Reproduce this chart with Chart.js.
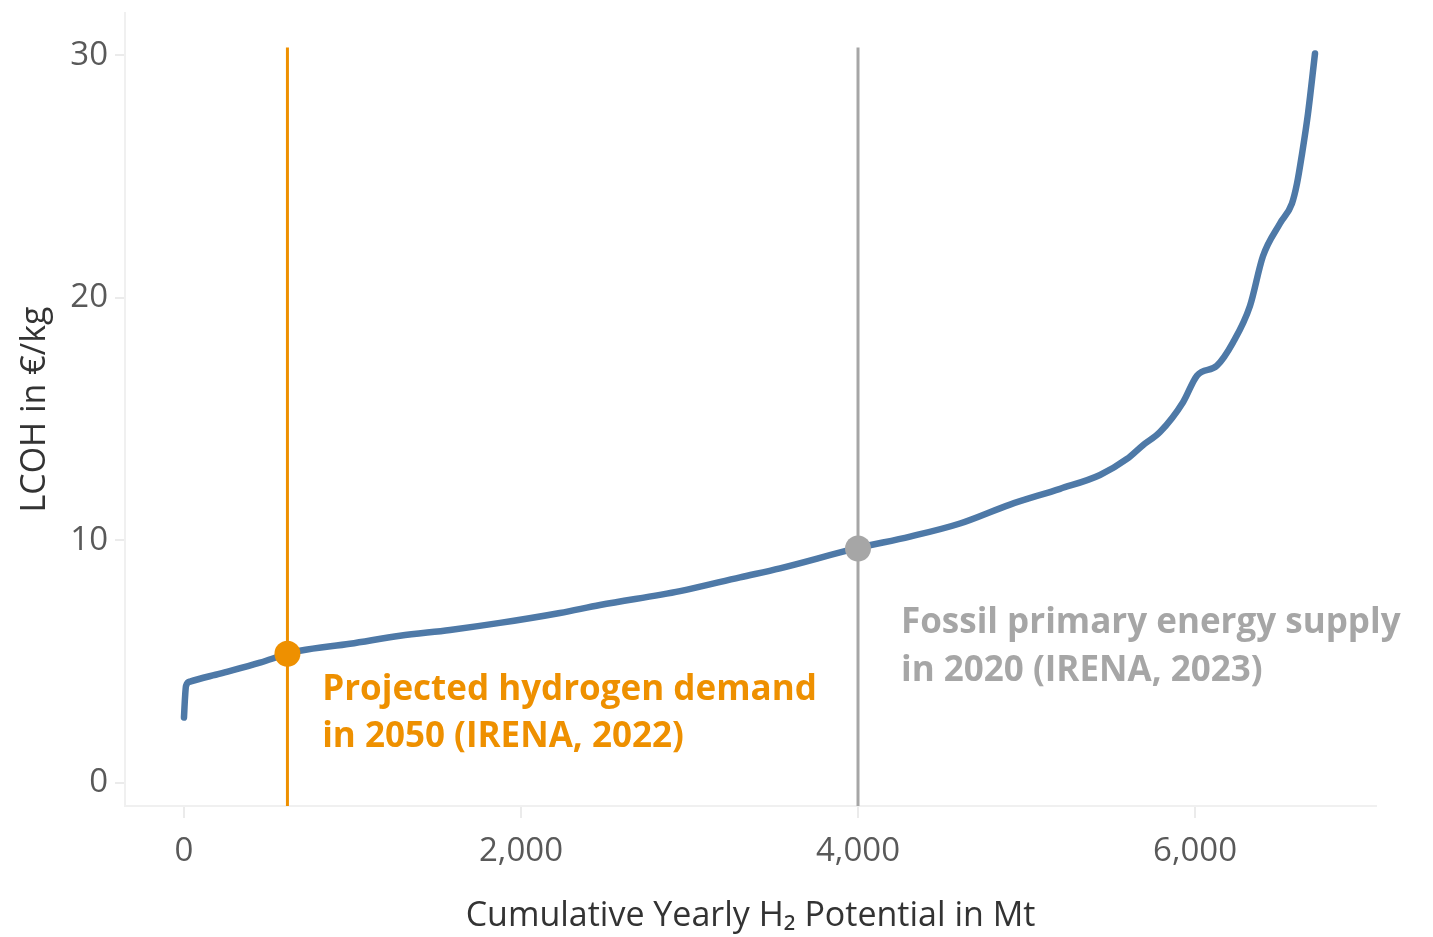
<!DOCTYPE html>
<html>
<head>
<meta charset="utf-8">
<script src="https://cdn.jsdelivr.net/npm/chart.js@4.4.0/dist/chart.umd.min.js"></script>
<style>
  body { margin: 0; background: #fff; }
  #wrap { width: 1433px; height: 937px; }
</style>
</head>
<body>
<div id="wrap"><canvas id="supplyChart" width="1433" height="937"></canvas></div>
<script>
// cumulative potential (Mt) and LCOH (€/kg)
var potential = [0, 6, 12, 36, 214, 451, 617, 688, 985, 1282, 1579, 1875, 2231, 2469, 2944, 3300, 3537, 3988, 4309, 4605, 4902, 5199, 5436, 5596, 5691, 5792, 5929, 6012, 6130, 6225, 6326, 6403, 6504, 6575, 6605, 6635, 6670, 6712];
var lcoh = [2.7, 3.5, 4.0, 4.18, 4.51, 4.96, 5.33, 5.45, 5.74, 6.07, 6.31, 6.6, 7.01, 7.34, 7.91, 8.48, 8.85, 9.67, 10.16, 10.7, 11.48, 12.13, 12.7, 13.36, 13.93, 14.47, 15.7, 16.8, 17.21, 18.16, 19.67, 21.72, 23.07, 23.89, 24.71, 25.94, 27.58, 30.08];

// reference markers
var demand2050 = { x: 614, y: 5.33 };
var fossil2020 = { x: 4000, y: 9.67 };
var refLineTop = 30.33;

var xTicks = [0, 2000, 4000, 6000];
var yTicks = [0, 10, 20, 30];
var xRange = [-350, 7074];
var yRange = [-0.95, 31.75];

var orange = '#EE9000';
var grey = '#A6A6A6';
var blue = '#4E79A7';

var curvePoints = potential.map(function (p, i) { return { x: p, y: lcoh[i] }; });

var annotations = {
  id: 'annotations',
  afterDatasetsDraw: function (chart) {
    var ctx = chart.ctx;
    var xs = chart.scales.x, ys = chart.scales.y;
    ctx.save();
    ctx.font = 'bold 35px "Open Sans"';
    ctx.textBaseline = 'middle';
    ctx.textAlign = 'left';
    ctx.fillStyle = orange;
    ctx.fillText('Projected hydrogen demand', xs.getPixelForValue(820), ys.getPixelForValue(3.85));
    ctx.fillText('in 2050 (IRENA, 2022)', xs.getPixelForValue(820), ys.getPixelForValue(1.89));
    ctx.fillStyle = grey;
    ctx.fillText('Fossil primary energy supply', xs.getPixelForValue(4255), ys.getPixelForValue(6.6));
    ctx.fillText('in 2020 (IRENA, 2023)', xs.getPixelForValue(4255), ys.getPixelForValue(4.63));
    ctx.restore();
  }
};

var chart = new Chart(document.getElementById('supplyChart'), {
  type: 'line',
  data: {
    datasets: [
      {
        label: 'demand marker',
        data: [demand2050],
        showLine: false,
        pointRadius: 13,
        pointBackgroundColor: orange,
        pointBorderWidth: 0,
        order: 0
      },
      {
        label: 'fossil marker',
        data: [fossil2020],
        showLine: false,
        pointRadius: 13,
        pointBackgroundColor: grey,
        pointBorderWidth: 0,
        order: 0
      },
      {
        label: 'demand line',
        data: [{ x: demand2050.x, y: yRange[0] }, { x: demand2050.x, y: refLineTop }],
        borderColor: orange,
        borderWidth: 3,
        pointRadius: 0,
        order: 1
      },
      {
        label: 'fossil line',
        data: [{ x: fossil2020.x, y: yRange[0] }, { x: fossil2020.x, y: refLineTop }],
        borderColor: grey,
        borderWidth: 3,
        pointRadius: 0,
        order: 1
      },
      {
        label: 'LCOH',
        data: curvePoints,
        borderColor: blue,
        borderWidth: 6.5,
        borderCapStyle: 'round',
        borderJoinStyle: 'round',
        pointRadius: 0,
        cubicInterpolationMode: 'monotone',
        order: 2
      }
    ]
  },
  options: {
    responsive: false,
    animation: false,
    devicePixelRatio: 1,
    layout: { padding: { top: 8, right: 57, left: 0, bottom: 0 } },
    plugins: { legend: { display: false }, tooltip: { enabled: false } },
    scales: {
      x: {
        type: 'linear',
        min: xRange[0],
        max: xRange[1],
        afterBuildTicks: function (s) { s.ticks = xTicks.map(function (v) { return { value: v }; }); },
        afterFit: function (s) { s.height = 131; s.paddingLeft = 0; s.paddingRight = 0; },
        grid: { drawOnChartArea: false, drawTicks: true, tickLength: 12, color: '#ebebeb', lineWidth: 2 },
        border: { display: true, color: '#f0f0f0', width: 2 },
        ticks: {
          padding: 14,
          color: '#595959',
          font: { family: 'Open Sans', size: 33 },
          callback: function (v) { return v.toLocaleString('en-US'); }
        },
        title: {
          display: true,
          text: 'Cumulative Yearly H\u2082 Potential in Mt',
          color: '#333333',
          font: { family: 'Open Sans', size: 34 },
          padding: { top: 0, bottom: 0 }
        }
      },
      y: {
        type: 'linear',
        min: yRange[0],
        max: yRange[1],
        afterBuildTicks: function (s) { s.ticks = yTicks.map(function (v) { return { value: v }; }); },
        afterFit: function (s) { s.width = 125; s.paddingTop = 0; s.paddingBottom = 0; },
        grid: { drawOnChartArea: false, drawTicks: true, tickLength: 10, color: '#ebebeb', lineWidth: 2 },
        border: { display: true, color: '#f0f0f0', width: 2 },
        ticks: {
          padding: 7,
          color: '#595959',
          font: { family: 'Open Sans', size: 33 }
        },
        title: {
          display: true,
          text: 'LCOH in \u20ac/kg',
          color: '#333333',
          font: { family: 'Open Sans', size: 34 },
          padding: { top: 15, bottom: 0 }
        }
      }
    }
  },
  plugins: [annotations]
});
</script>
</body>
</html>
